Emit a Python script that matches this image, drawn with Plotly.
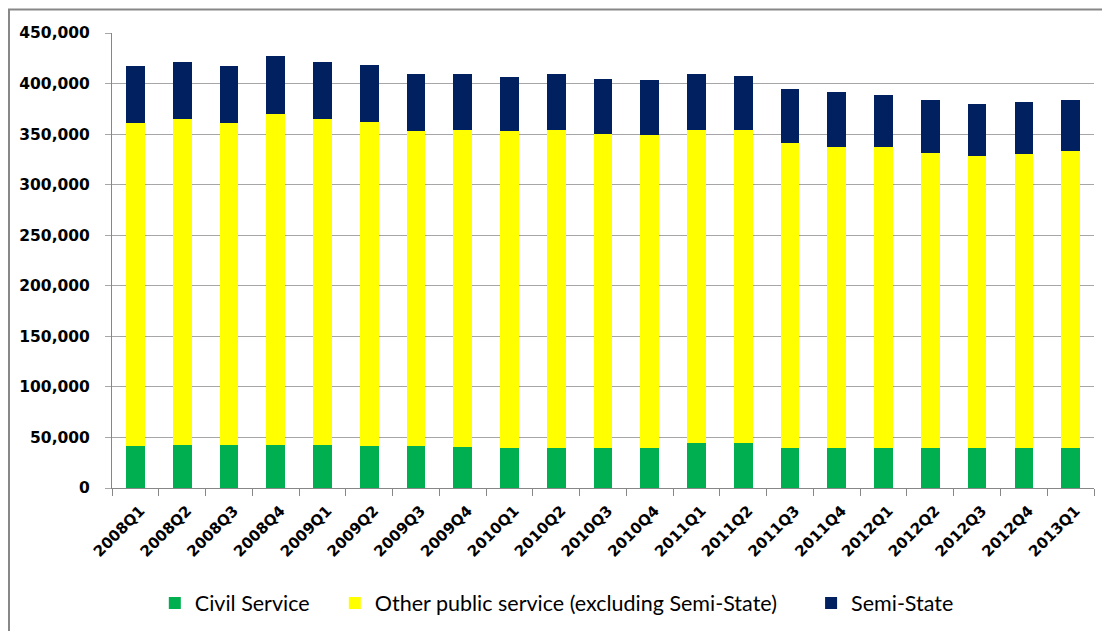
import plotly.graph_objects as go

quarters = [
    "2008Q1", "2008Q2", "2008Q3", "2008Q4",
    "2009Q1", "2009Q2", "2009Q3", "2009Q4",
    "2010Q1", "2010Q2", "2010Q3", "2010Q4",
    "2011Q1", "2011Q2", "2011Q3", "2011Q4",
    "2012Q1", "2012Q2", "2012Q3", "2012Q4",
    "2013Q1",
]

civil_service = [
    41500, 42500, 42500, 42500,
    42500, 41500, 41500, 40500,
    39500, 39500, 39500, 39500,
    44400, 44400, 39500, 39500,
    39500, 39500, 39500, 39500,
    39500,
]

other_public = [
    319200, 322100, 318200, 327700,
    322100, 320100, 311100, 314000,
    313100, 315000, 310200, 309200,
    309200, 309200, 302000, 298100,
    298100, 291900, 289000, 291000,
    293900,
]

semi_state = [
    56800, 57100, 56800, 57400,
    57100, 57000, 56800, 54900,
    53800, 54900, 54700, 54700,
    55800, 53800, 53000, 53900,
    51000, 52000, 51000, 50900,
    50000,
]

y_ticks = [0, 50000, 100000, 150000, 200000, 250000, 300000, 350000, 400000, 450000]

fig = go.Figure()

fig.add_trace(go.Bar(name="Civil Service", x=quarters, y=civil_service, legend="legend",
                     marker=dict(color="#00B050", line=dict(width=0))))
fig.add_trace(go.Bar(name="Other public service (excluding Semi-State)", x=quarters, y=other_public,
                     legend="legend2", marker=dict(color="#FFFF00", line=dict(width=0))))
fig.add_trace(go.Bar(name="Semi-State", x=quarters, y=semi_state, legend="legend3",
                     marker=dict(color="#002060", line=dict(width=0))))

# chart border (runs off the right and bottom of the picture)
fig.add_shape(type="rect", xref="paper", yref="paper",
              x0=-0.1049, x1=1.03, y0=-0.4, y1=1.0519,
              line=dict(color="#878787", width=2), layer="below")

legend_font = dict(family="Lato", size=21.5, color="black")
legend_common = dict(orientation="h", y=-0.253, yanchor="middle", xanchor="left",
                     font=legend_font, bgcolor="rgba(0,0,0,0)", borderwidth=0)

# page body keeps its 8px margin, so the figure is sized to fit the window
fig.update_layout(
    barmode="stack",
    bargap=0.6,
    width=1094,
    height=623,
    margin=dict(l=104, r=8, t=25, b=136),
    paper_bgcolor="white",
    plot_bgcolor="white",
    font=dict(family="DejaVu Sans", color="black"),
    showlegend=True,
    legend=dict(x=0.0436, **legend_common),
    legend2=dict(x=0.2269, **legend_common),
    legend3=dict(x=0.7119, **legend_common),
    xaxis=dict(
        type="category",
        automargin=False,
        tickangle=-45,
        tickson="boundaries",
        ticks="outside",
        ticklen=7,
        tickcolor="#878787",
        ticklabelstandoff=7,
        ticklabelshift=5,
        showline=True,
        linecolor="#878787",
        linewidth=1,
        showgrid=False,
        tickfont=dict(family="DejaVu Sans", size=15, color="black", weight="bold"),
    ),
    yaxis=dict(
        range=[0, 450000],
        automargin=False,
        tickvals=y_ticks,
        tickformat=",d",
        ticks="outside",
        ticklen=6,
        tickcolor="#a6a6a6",
        ticklabelstandoff=12,
        showline=True,
        linecolor="#878787",
        linewidth=1,
        showgrid=True,
        gridcolor="#a6a6a6",
        gridwidth=1,
        zeroline=False,
        tickfont=dict(family="DejaVu Sans", size=15.5, color="black", weight="bold"),
    ),
)

fig.write_html("out.html")
